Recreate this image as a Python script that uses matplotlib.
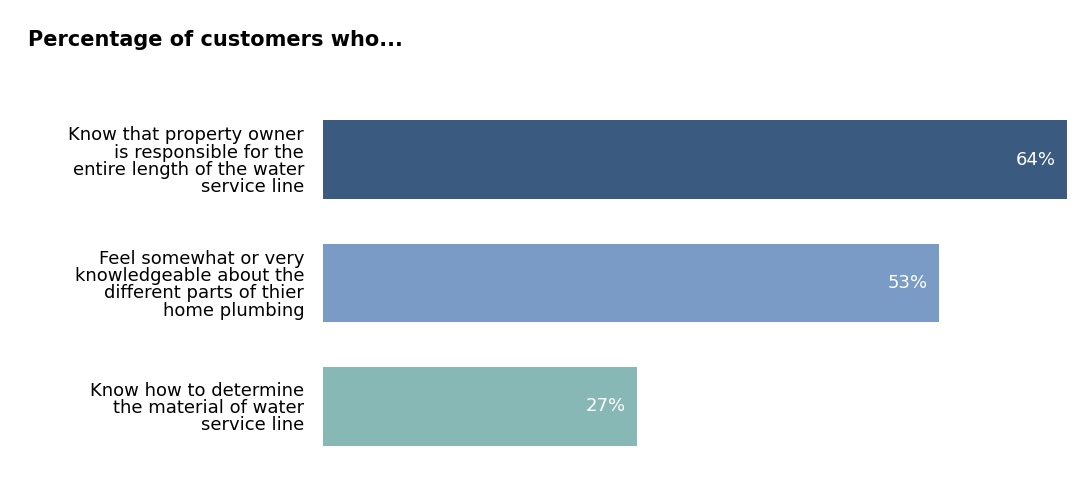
import matplotlib
matplotlib.use("Agg")
import matplotlib.pyplot as plt

categories = ["Know that property owner\nis responsible for the\nentire length of the water\nservice line",
              "Feel somewhat or very\nknowledgeable about the\ndifferent parts of thier\nhome plumbing",
              "Know how to determine\nthe material of water\nservice line"]
values = [64, 53, 27]
colors = ["#3b5a80", "#7a9bc6", "#88b8b5"]

fig = plt.figure(figsize=(10.92, 4.94), dpi=100)
ax = fig.add_axes([323/1092, 1-468/494, (1070-323)/1092, 370/494])
y = range(len(values))
ax.barh(y, values, height=0.64, color=colors)
ax.set_ylim(2.5, -0.5)
ax.set_xlim(0, 64.3)
for i, v in enumerate(values):
    ax.annotate(f"{v}%", (v, i), xytext=(-8, 0), textcoords="offset points",
                ha="right", va="center", color="white", fontsize=13)
ax.set_yticks(list(y))
ax.set_yticklabels(categories, fontsize=13, linespacing=0.95)
ax.tick_params(left=False, bottom=False, labelbottom=False, pad=10)
for s in ax.spines.values():
    s.set_visible(False)
fig.text(28/1092, 1-40/494, "Percentage of customers who...", fontsize=15,
         fontweight="bold", va="center", ha="left")
fig.savefig("out.png", dpi=100)
